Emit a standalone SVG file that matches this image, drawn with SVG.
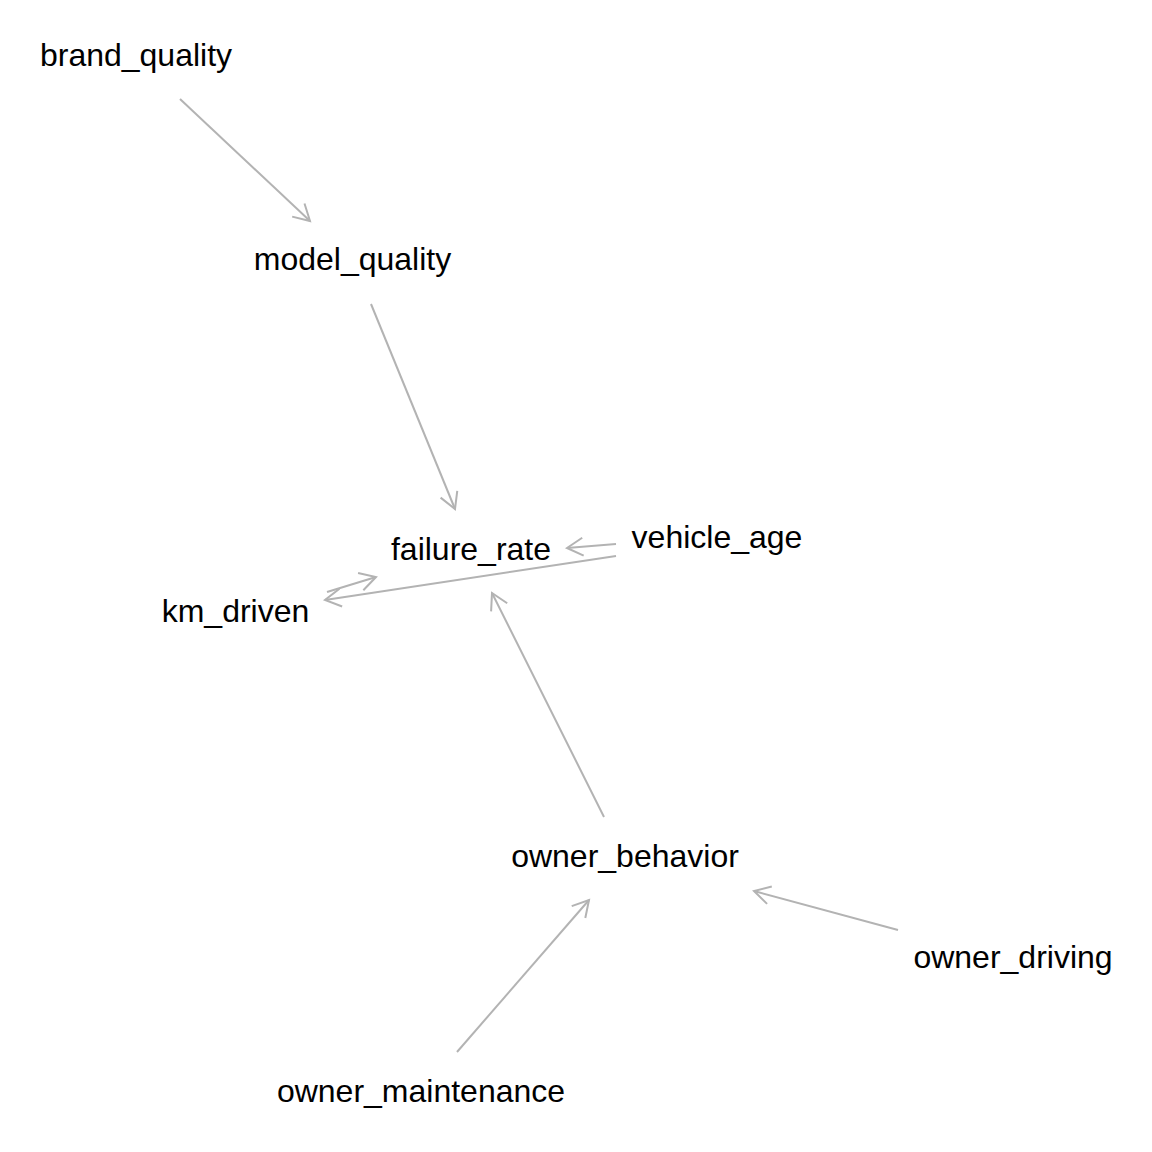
<svg xmlns="http://www.w3.org/2000/svg" width="1152" height="1152" viewBox="0 0 1152 1152">
<style>
.lbl{font-family:"Liberation Sans",Arial,sans-serif;font-size:32px;fill:#000;text-anchor:middle}
.edge{stroke:#b3b3b3;stroke-width:2;fill:none;marker-end:url(#arr)}
</style>
<defs>
<marker id="arr" markerUnits="userSpaceOnUse" markerWidth="40" markerHeight="40" viewBox="-20 -20 40 40" refX="0" refY="0" orient="auto">
<path d="M-16,-9 L0,0 L-16,9" stroke="#b3b3b3" stroke-width="2" fill="none"/>
</marker>
</defs>
<rect width="1152" height="1152" fill="#fff"/>
<g id="connectors">
<line class="edge" x1="180" y1="99" x2="310" y2="221"/>
<line class="edge" x1="371" y1="304" x2="455" y2="509"/>
<line class="edge" x1="616" y1="544" x2="567" y2="548"/>
<line class="edge" x1="616" y1="556" x2="325" y2="600"/>
<line class="edge" x1="327" y1="592" x2="376" y2="577"/>
<line class="edge" x1="604" y1="817" x2="492" y2="593"/>
<line class="edge" x1="898" y1="930" x2="754" y2="891"/>
<line class="edge" x1="457" y1="1052" x2="589" y2="900"/>
</g>
<g id="brand_quality"><text class="lbl" x="136" y="66">brand_quality</text></g>
<g id="model_quality"><text class="lbl" x="352.5" y="270">model_quality</text></g>
<g id="failure_rate"><text class="lbl" x="471" y="560">failure_rate</text></g>
<g id="vehicle_age"><text class="lbl" x="717" y="548">vehicle_age</text></g>
<g id="km_driven"><text class="lbl" x="235.5" y="622">km_driven</text></g>
<g id="owner_behavior"><text class="lbl" x="625" y="867">owner_behavior</text></g>
<g id="owner_driving"><text class="lbl" x="1013" y="968">owner_driving</text></g>
<g id="owner_maintenance"><text class="lbl" x="421" y="1102">owner_maintenance</text></g>
</svg>
